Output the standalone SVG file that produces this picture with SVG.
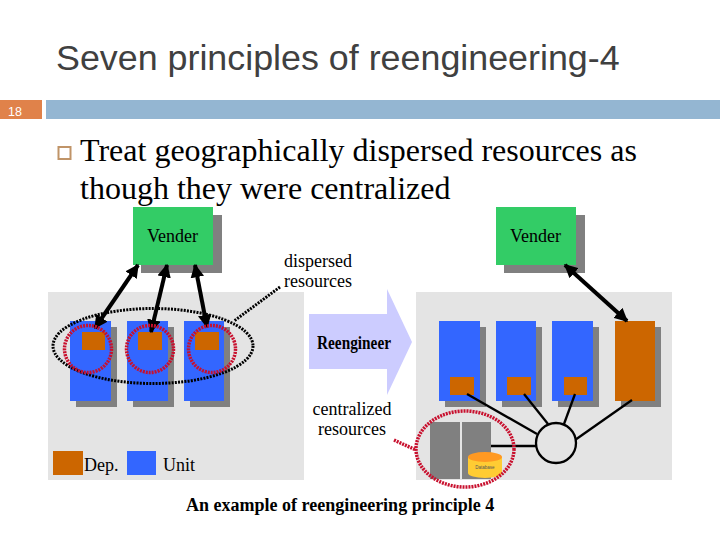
<svg xmlns="http://www.w3.org/2000/svg" width="720" height="540" viewBox="0 0 720 540">
<style>
.s{font-family:"Liberation Serif",serif;fill:#000}
.l{font-size:18px;text-anchor:middle}
.panel{fill:#e4e4e4}.shadow{fill:#808080}.unit{fill:#3366ff}.dep{fill:#cc6600}.vender{fill:#33cc66}
.dbl{stroke:#000;stroke-width:4;fill:none;marker-start:url(#a);marker-end:url(#a)}
.thin{stroke:#000;stroke-width:2.300;fill:none}
.red{stroke:#c8102e;stroke-width:3.500;stroke-dasharray:2 1;fill:none}
.blk{stroke:#000;stroke-width:3;stroke-dasharray:2 1.200;fill:none}
</style>
<defs>
<marker id="a" viewBox="0 0 10 10" refX="9" refY="5" markerWidth="3.4" markerHeight="3.4" orient="auto-start-reverse"><path d="M0 0L10 5L0 10z" fill="#000"/></marker>
</defs>
<rect width="720" height="540" fill="#fff"/>
<text id="title" x="56" y="70" font-family="Liberation Sans,sans-serif" font-size="35.850" fill="#404040">Seven principles of reengineering-4</text>
<rect x="0" y="100" width="42" height="19" fill="#e0824a"/>
<rect x="46" y="100" width="674" height="19" fill="#94b6d2"/>
<text x="8" y="116" font-family="Liberation Sans,sans-serif" font-size="12.500" fill="#fff">18</text>
<rect x="58.500" y="147" width="12" height="12" fill="none" stroke="#c09468" stroke-width="2"/>
<text class="s" x="80" y="161" font-size="32">Treat geographically dispersed resources as</text>
<text class="s" x="80" y="199" font-size="32">though they were centralized</text>

<rect class="panel" x="48" y="292" width="256" height="188"/>
<rect class="panel" x="416" y="292" width="256" height="188"/>

<g id="reengineer">
<path d="M309 314H387V289L412 342L387 395V369H309z" fill="#ccccff"/>
<text class="s" x="354" y="349" font-size="18" font-weight="bold" text-anchor="middle" fill="#111" textLength="74" lengthAdjust="spacingAndGlyphs">Reengineer</text>
</g>

<g id="vender-left">
<rect class="shadow" x="141" y="215" width="81" height="58"/>
<rect class="vender" x="133" y="207" width="80" height="58"/>
<text class="s l" x="172.500" y="242">Vender</text>
</g>
<g id="vender-right">
<rect class="shadow" x="504" y="215" width="81" height="58"/>
<rect class="vender" x="496" y="207" width="80" height="58"/>
<text class="s l" x="535.500" y="242">Vender</text>
</g>

<g id="unit-l1"><rect class="shadow" x="76" y="327" width="41" height="80"/><rect class="unit" x="70" y="321" width="41" height="80"/><rect class="dep" x="82" y="332" width="23" height="18"/></g>
<g id="unit-l2"><rect class="shadow" x="133" y="327" width="41" height="80"/><rect class="unit" x="127" y="321" width="41" height="80"/><rect class="dep" x="138" y="332" width="24" height="18"/></g>
<g id="unit-l3"><rect class="shadow" x="190" y="327" width="40" height="80"/><rect class="unit" x="184" y="321" width="40" height="80"/><rect class="dep" x="195" y="332" width="24" height="18"/></g>

<g id="unit-r1"><rect class="shadow" x="445" y="327" width="41" height="80"/><rect class="unit" x="439" y="321" width="41" height="80"/><rect class="dep" x="450" y="377" width="24" height="18"/></g>
<g id="unit-r2"><rect class="shadow" x="502" y="327" width="40" height="80"/><rect class="unit" x="496" y="321" width="40" height="80"/><rect class="dep" x="507" y="377" width="24" height="18"/></g>
<g id="unit-r3"><rect class="shadow" x="558" y="327" width="41" height="80"/><rect class="unit" x="552" y="321" width="41" height="80"/><rect class="dep" x="564" y="377" width="23" height="18"/></g>
<g id="dep-r4"><rect class="shadow" x="621" y="327" width="40" height="80"/><rect class="dep" x="615" y="321" width="40" height="80"/></g>

<g id="servers">
<rect class="shadow" x="430" y="422" width="30" height="57"/>
<rect class="shadow" x="462" y="422" width="29" height="57"/>
</g>

<g id="connectors">
<line class="dbl" x1="138" y1="265" x2="95" y2="328"/>
<line class="dbl" x1="167" y1="265" x2="151" y2="332"/>
<line class="dbl" x1="195" y1="265" x2="207" y2="327"/>
<line class="dbl" x1="565" y1="265" x2="627" y2="321"/>
<line class="thin" x1="467" y1="394" x2="537" y2="434"/>
<line class="thin" x1="524" y1="394" x2="548" y2="424"/>
<line class="thin" x1="575" y1="394" x2="564" y2="424"/>
<line class="thin" x1="632" y1="400" x2="575" y2="440"/>
<line class="thin" x1="491" y1="446" x2="536" y2="446"/>
<line class="blk" x1="280" y1="287" x2="234" y2="321"/>
<line class="red" x1="394" y1="440" x2="416" y2="450"/>
</g>

<g id="hub"><circle cx="556" cy="443" r="20" fill="#e4e4e4" stroke="#000" stroke-width="2.300"/></g>

<g id="database">
<path d="M468 457V473A17 5 0 0 0 502 473V457z" fill="#ffcc33"/>
<ellipse cx="485" cy="457" rx="17" ry="5" fill="#ff9922"/>
<text x="485" y="469" font-family="Liberation Sans,sans-serif" font-size="4.500" text-anchor="middle" fill="#555">Database</text>
</g>

<g id="rings">
<ellipse class="blk" cx="153" cy="346" rx="100" ry="37.500"/>
<circle class="red" cx="88" cy="349" r="23.500"/>
<circle class="red" cx="150" cy="349" r="23.500"/>
<circle class="red" cx="212" cy="349" r="23.500"/>
<ellipse class="red" cx="465" cy="449" rx="49" ry="38"/>
</g>

<g id="legend">
<rect class="dep" x="53" y="451" width="30" height="24"/>
<text class="s" x="84" y="471" font-size="18">Dep.</text>
<rect class="unit" x="127" y="451" width="29" height="24"/>
<text class="s" x="163" y="471" font-size="18">Unit</text>
</g>

<text class="s l" x="318" y="267">dispersed</text>
<text class="s l" x="318" y="287">resources</text>
<text class="s l" x="352" y="415">centralized</text>
<text class="s l" x="352" y="435">resources</text>
<text class="s" x="186" y="511" font-size="18" font-weight="bold">An example of reengineering principle 4</text>
</svg>
